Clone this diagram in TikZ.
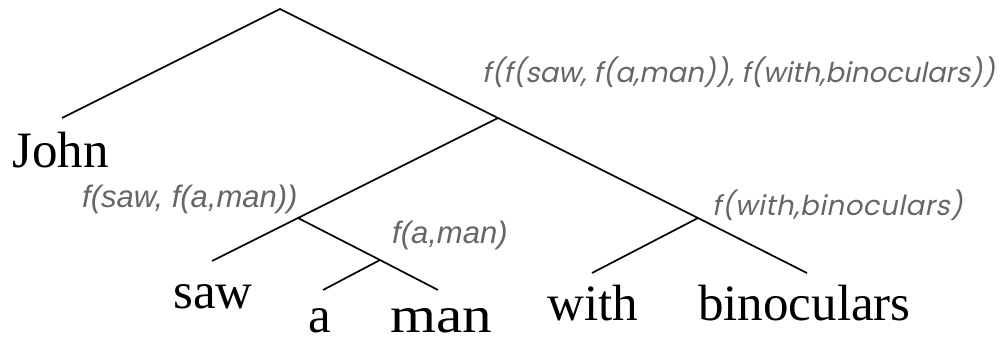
\documentclass[tikz,border=0pt]{standalone}
\usepackage{fontspec}
\setmainfont{Liberation Serif}
\newfontfamily\lblA{Liberation Sans}
\newfontfamily\lblB[FakeSlant=0.2]{Poppins}
\definecolor{lblgray}{HTML}{666666}
\begin{document}
\begin{tikzpicture}[x=1pt,y=-1pt,
  edge/.style={line width=1.7pt,black},
  word/.style={anchor=base west,inner sep=0pt,font=\fontsize{51}{51}\selectfont},
  lbla/.style={anchor=base west,inner sep=0pt,text=lblgray,font=\lblA\itshape\fontsize{31}{31}\selectfont},
  lblb/.style={anchor=base west,inner sep=0pt,text=lblgray,font=\lblB\fontsize{27.5}{27.5}\selectfont}]
\useasboundingbox (0,0) rectangle (1004,340);
% junctions
\coordinate (root) at (280,9);
\coordinate (n1) at (498,118);
\coordinate (n2) at (298,218);
\coordinate (n3) at (380,260);
\coordinate (n4) at (698,218);
% leaf line ends
\coordinate (eJohn) at (62,118);
\coordinate (eSaw) at (212,261);
\coordinate (eA) at (323,290);
\coordinate (eMan) at (438,290);
\coordinate (eWith) at (592,273);
\coordinate (eBin) at (807,273);
% edges
\draw[edge] (eJohn) -- (root) -- (n1) -- (n4) -- (eBin);
\draw[edge] (n1) -- (n2) -- (eSaw);
\draw[edge] (n2) -- (n3) -- (eMan);
\draw[edge] (n3) -- (eA);
\draw[edge] (n4) -- (eWith);
% words
\node[word] (john) at (12,167) {John};
\node[word] (saw) at (173,308) {saw};
\node[word] (a) at (308,332) {a};
\node[word] (man) at (390,332) {\scalebox{1.16}[1]{man}};
\node[word] (with) at (547,320) {with};
\node[word] (bin) at (698,320) {binoculars};
% labels
\node[lblb] (l1) at (482,82) {f(f(saw, f(a,man)), f(with,binoculars))};
\node[lbla] (l2) at (82,207) {f(saw, f(a,man))};
\node[lbla] (l3) at (392,243) {f(a,man)};
\node[lblb] (l4) at (712,215) {\addfontfeature{LetterSpace=2}f(with,binoculars)};
\end{tikzpicture}
\end{document}
